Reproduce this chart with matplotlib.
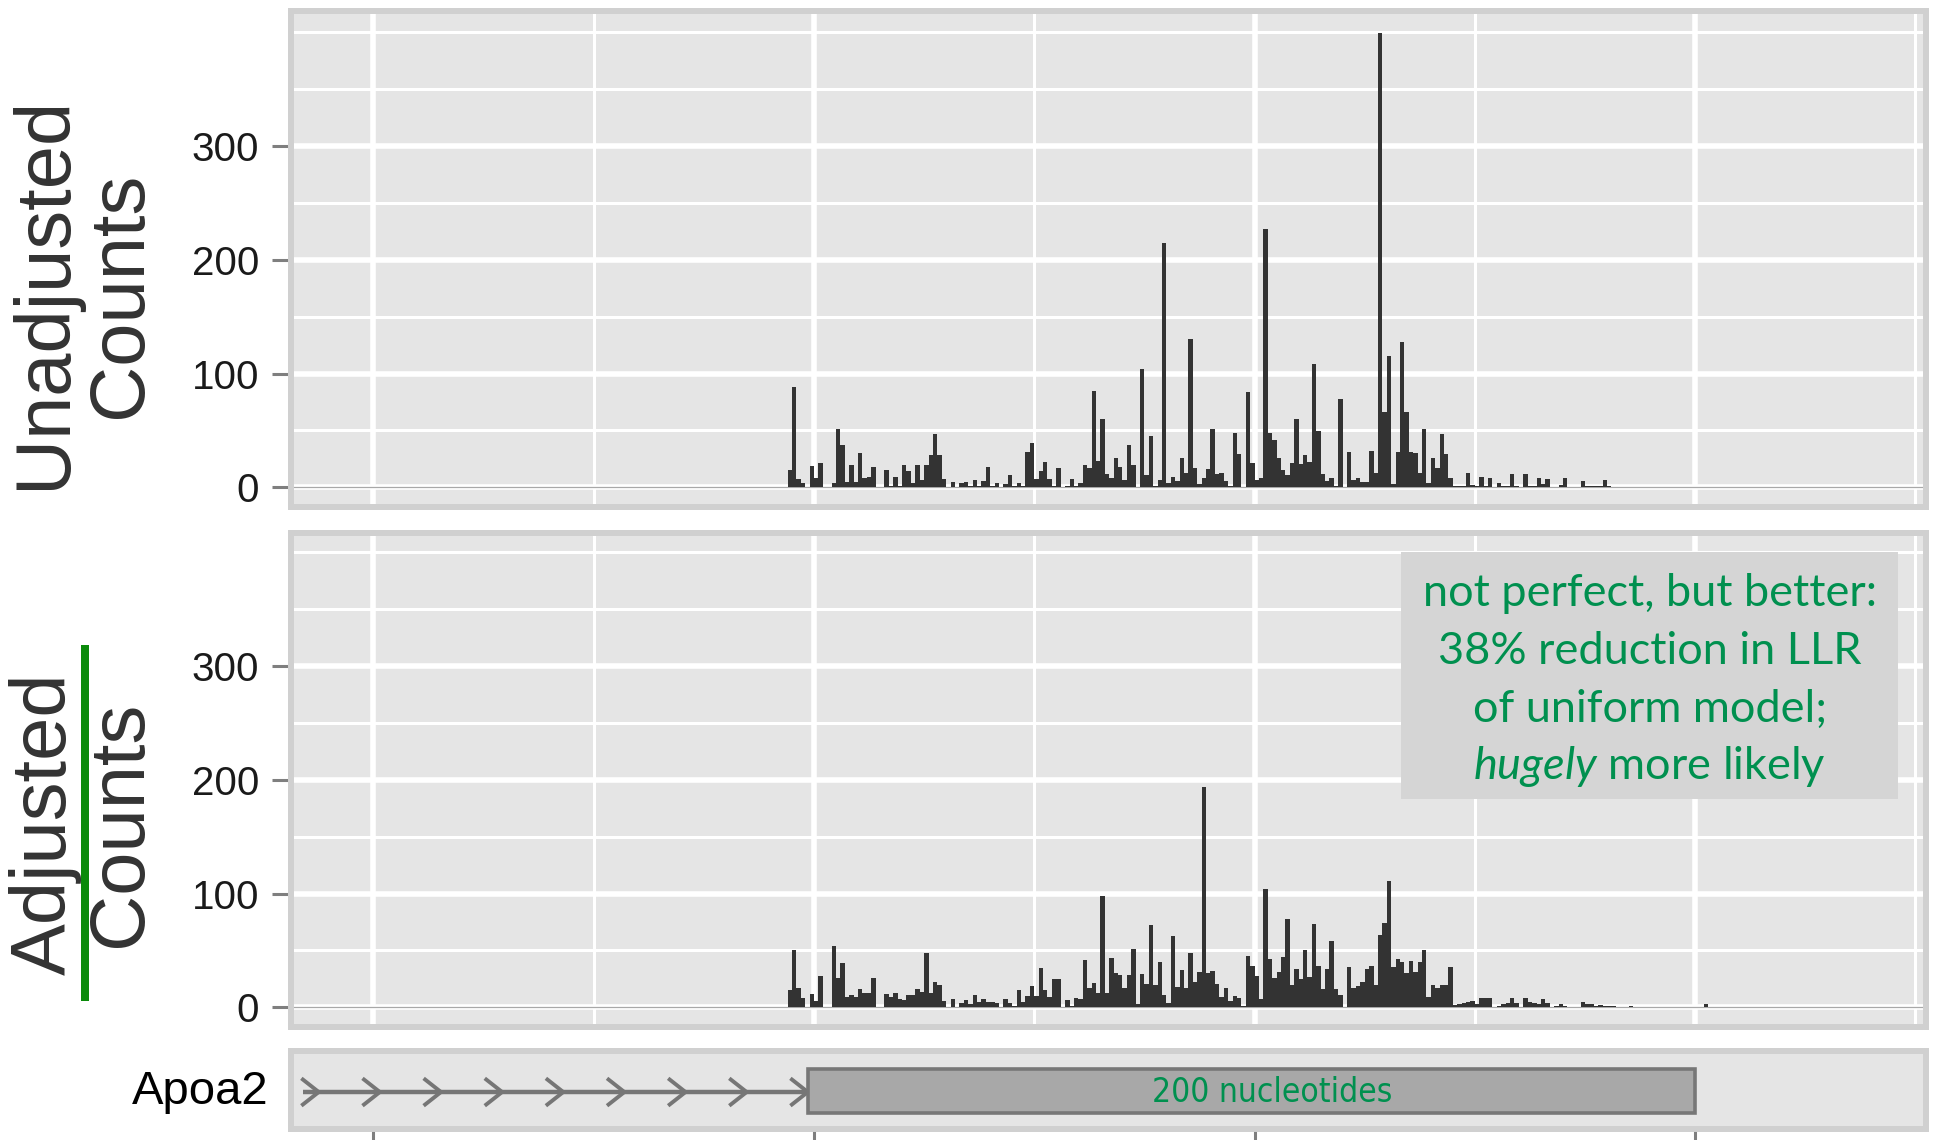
##
## === DEPENDENCIES
##

import matplotlib

matplotlib.use("Agg")
import matplotlib.pyplot as plt
import numpy
from matplotlib import font_manager
from matplotlib.patches import Rectangle

##
## === DATA
##

BAR_START = -6  # left edge (nt) of the first position in the count arrays

UNADJUSTED_COUNTS = [
    15, 88, 7, 3.5, 0, 19, 8, 21, 0, 0,
    3.5, 51, 37, 4.4, 20, 5, 30, 8.5, 9.4, 18,
    0.5, 0, 15, 1, 9, 1, 20, 14, 4, 20,
    6.5, 20, 28, 47, 28, 7, 0.5, 5, 0, 4,
    5, 1, 6, 1, 5.5, 18, 1, 4, 0, 2.6,
    10.5, 1, 3.5, 1, 31, 39, 7, 14, 22, 7,
    1, 17, 0, 1, 7, 1, 3.5, 20, 17, 85,
    23, 60, 12, 8.5, 26, 18, 6.5, 37, 19.6, 0.5,
    104, 11, 45, 1, 6.5, 215, 3.5, 9.4, 5.5, 25.5,
    12.3, 130, 17.3, 2.6, 8.5, 16, 51, 11.7, 12.3, 5.5,
    1, 47.5, 29, 0, 83.6, 21, 6.5, 8.2, 227, 47.5,
    42, 26, 15, 10.5, 21, 60, 20.5, 28, 22.6, 108.5,
    49.6, 11.7, 5.5, 8.5, 1, 78, 0, 31, 6.5, 8.5,
    4.4, 4.4, 32, 12.3, 399, 66.6, 115.5, 2.6, 31, 127.6,
    66.6, 31, 30.5, 12.3, 51, 4, 26, 17, 46.6, 29,
    8.5, 1, 1, 1, 12.3, 2, 1, 9.4, 1, 8.5,
    0.5, 3.5, 1, 1, 11.4, 1, 0, 11.4, 1, 1,
    8, 2.6, 7, 0.5, 0.5, 2, 8, 0.5, 0.5, 0,
    5.5, 1, 1, 1, 1, 6, 1, 0.5, 0, 0,
    0, 0.5, 0, 0, 0, 0, 0, 0, 0, 0,
    0, 0, 0, 0, 0, 0.5, 0, 0, 0.5,
]

ADJUSTED_COUNTS = [
    15, 50, 17, 8.5, 0, 11.7, 5.5, 27.6, 0, 0,
    54, 26, 39, 9.4, 11, 9.4, 15.8, 13, 13, 25.5,
    0.5, 0, 11.7, 8.8, 13, 7, 6.5, 10.5, 10.5, 16,
    13.8, 47.5, 12.3, 22.6, 20, 5.5, 0, 7, 0, 3.5,
    6, 2.6, 10.5, 5, 7, 5, 5, 3.5, 0, 7,
    4, 1.5, 15, 4.4, 10, 19, 10, 35, 15, 8.8,
    24.6, 24.6, 0, 6, 1.5, 8, 7, 41.6, 17, 21,
    13, 98, 13, 43.7, 30, 28, 17, 28, 51, 3,
    29, 20.5, 72, 19.6, 39.6, 11, 4, 62.8, 18, 32.8,
    16.7, 48, 22.6, 31, 193.5, 30.5, 32, 20.5, 9.4, 17.3,
    5.5, 10.3, 8, 1, 45, 36.7, 27.6, 7, 103.8, 42.8,
    25.5, 30.8, 44, 77.4, 20, 33.7, 25, 50.4, 26.4, 73,
    36.7, 15.8, 33.7, 58.4, 15.8, 11, 0, 35.8, 16.7, 19,
    22.3, 33.7, 36.7, 20, 64, 74.5, 111, 35.8, 42.5, 40,
    30, 41, 30.8, 40, 50.4, 8.8, 20, 16.7, 20, 20,
    35.8, 2, 2.6, 4, 5, 5.5, 2.6, 8, 8, 8,
    0, 1, 3, 3.5, 8.5, 3.5, 0, 8, 5, 4,
    3, 7, 3.5, 0, 1.5, 2.6, 1.5, 0.5, 0, 0,
    4.4, 2.6, 2.6, 1.5, 2, 1.5, 1.5, 1.5, 0, 0,
    0, 1, 0, 0, 0, 0, 0, 0, 0, 0,
    0, 0, 0, 0, 0, 0, 0, 0, 2.6,
]

Y_TICKS = [0, 100, 200, 300]
Y_MINOR_TICKS = [50, 150, 250, 350, 400]
X_TICKS = [-100, 0, 100, 200]
X_MINOR_TICKS = [-50, 50, 150, 250]

GENE_NAME = "Apoa2"
GENE_LABEL = "200 nucleotides"
INTRON_START = -116.0
EXON_START = -1.4
EXON_END = 200.0
CHEVRON_STEP = 13.875
N_CHEVRONS = 9

NOTE_LINES = [
    "not perfect, but better:",
    "38% reduction in LLR",
    "of uniform model;",
    r"$\mathit{hugely}$ more likely",
]
NOTE_BASELINES = [352.8, 301.8, 251.0, 200.7]  # in count units

##
## === STYLE
##

FIG_W, FIG_H = 1936, 1140
PANEL_BG = "#E5E5E5"
BORDER = "#D0D0D0"
BAR_COLOR = "#333333"
TICK_GREY = "#7F7F7F"
GREEN = "#00904F"
XLIM = (-118.7, 252.4)

plt.rcParams["font.family"] = ["Liberation Sans", "DejaVu Sans"]
plt.rcParams["mathtext.fontset"] = "custom"
plt.rcParams["mathtext.rm"] = "Lato"
plt.rcParams["mathtext.it"] = "Lato:italic"


def px_rect(x0: float, y0: float, x1: float, y1: float) -> list:
    return [x0 / FIG_W, 1 - y1 / FIG_H, (x1 - x0) / FIG_W, (y1 - y0) / FIG_H]


def pick_narrow_font() -> dict:
    fonts = font_manager.fontManager.ttflist
    names = {f.name for f in fonts}
    if "Liberation Sans Narrow" in names:
        return dict(family="Liberation Sans Narrow", fontsize=28)
    for f in fonts:
        if f.name == "DejaVu Sans" and f.stretch == "condensed":
            return dict(family="DejaVu Sans", stretch="condensed", fontsize=24)
    return dict(family="Liberation Sans", fontsize=24)


def style_panel(ax) -> None:
    ax.set_facecolor(PANEL_BG)
    for spine in ax.spines.values():
        spine.set_color(BORDER)
        spine.set_linewidth(4.3)
    ax.set_xlim(*XLIM)


def draw_counts(ax, counts: list, ylim: tuple) -> None:
    style_panel(ax)
    positions = BAR_START + numpy.arange(len(counts))
    ax.set_axisbelow(True)
    ax.set_xticks(X_TICKS)
    ax.set_xticks(X_MINOR_TICKS, minor=True)
    ax.set_yticks(Y_TICKS)
    ax.set_yticks(Y_MINOR_TICKS, minor=True)
    ax.grid(which="major", color="white", linewidth=4.0)
    ax.grid(which="minor", color="white", linewidth=2.2)
    ax.axhline(0, color="#A8A8A8", linewidth=0.9, zorder=1.5)
    ax.bar(positions, counts, width=1.0, align="edge",
           color=BAR_COLOR, linewidth=0, zorder=2)
    ax.set_ylim(*ylim)
    ax.tick_params(axis="x", which="both", length=0, labelbottom=False)
    ax.tick_params(axis="y", which="minor", length=0)
    ax.tick_params(axis="y", which="major", length=14, width=2.2,
                   color=TICK_GREY, labelsize=29, labelcolor="#1A1A1A", pad=9)


def draw_gene(ax, label_font: dict) -> None:
    style_panel(ax)
    ax.set_ylim(0, 1)
    ax.set_yticks([])
    ax.set_xticks(X_TICKS)
    ax.tick_params(axis="x", length=10, width=2.2, color=TICK_GREY,
                   labelbottom=False)
    mid = 0.474
    ax.plot([INTRON_START, EXON_START], [mid, mid], color="#767676",
            linewidth=3.2, solid_capstyle="butt", zorder=2)
    tips = EXON_START - CHEVRON_STEP * numpy.arange(N_CHEVRONS)
    for tip in tips:
        ax.plot([tip - 3.6, tip, tip - 3.6], [mid + 0.16, mid, mid - 0.16],
                color="#767676", linewidth=2.8, zorder=2)
    ax.add_patch(Rectangle((EXON_START, 0.205), EXON_END - EXON_START, 0.565,
                           facecolor="#A8A8A8", edgecolor="#777777",
                           linewidth=2.6, zorder=3))
    ax.text(104, mid, GENE_LABEL, ha="center", va="center", color=GREEN,
            zorder=4, **label_font)


##
## === MAIN
##


def main() -> None:
    fig = plt.figure(figsize=(FIG_W / 100, FIG_H / 100), dpi=100)

    ax_top = fig.add_axes(px_rect(291, 11, 1926, 507))
    draw_counts(ax_top, UNADJUSTED_COUNTS, (-17.3, 418.7))

    ax_bot = fig.add_axes(px_rect(291, 533, 1926, 1027))
    draw_counts(ax_bot, ADJUSTED_COUNTS, (-17.3, 417.0))

    ax_gene = fig.add_axes(px_rect(291, 1051, 1926, 1129))
    draw_gene(ax_gene, pick_narrow_font())

    # annotation box on the adjusted panel
    ax_bot.add_patch(Rectangle((133.3, 182.9), 112.7, 217.1,
                               facecolor="#D5D5D5", edgecolor="none", zorder=5))
    for line, base in zip(NOTE_LINES, NOTE_BASELINES):
        ax_bot.text(189.7, base, line, ha="center", va="baseline",
                    color=GREEN, family=["Lato", "DejaVu Sans"],
                    fontsize=32.5, zorder=6)

    # y-axis titles
    title_kw = dict(rotation=90, ha="center", va="center",
                    color="#333333", fontsize=56)
    fig.text(45 / FIG_W, 1 - 292 / FIG_H, "Unadjusted", **title_kw)
    fig.text(120 / FIG_W, 1 - 295 / FIG_H, "Counts", **title_kw)
    fig.text(45 / FIG_W, 1 - 824 / FIG_H, "Adjusted", **title_kw)
    fig.text(120 / FIG_W, 1 - 824 / FIG_H, "Counts", **title_kw)
    fig.add_artist(Rectangle((81 / FIG_W, 1 - 1001 / FIG_H), 8 / FIG_W,
                             356 / FIG_H, transform=fig.transFigure,
                             facecolor="#0A8A0A", edgecolor="none"))

    fig.text(269 / FIG_W, 1 - 1092 / FIG_H, GENE_NAME, ha="right",
             va="center", color="black", fontsize=34)

    fig.savefig("out.png", dpi=100)


if __name__ == "__main__":
    main()
